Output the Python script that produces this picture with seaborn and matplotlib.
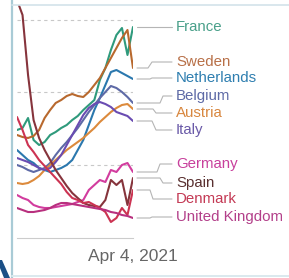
import pandas as pd
import numpy as np
import matplotlib.pyplot as plt
import matplotlib.transforms as mtransforms
from matplotlib.lines import Line2D
from matplotlib.patches import Polygon
import seaborn as sns

# weekly points, Nov 8 2020 -> Apr 4 2021
dates = pd.date_range('2020-11-08', '2021-04-04', freq='7D')

france = [110, 112, 122, 100, 95, 98, 105, 108, 112, 115, 120, 124, 130, 135, 140, 160, 172, 190, 205, 212, 185, 213]
sweden = [105, 103, 102, 104, 110, 122, 130, 137, 140, 144, 146, 144, 143, 148, 155, 162, 172, 182, 192, 202, 210, 172]
netherlands = [90, 85, 80, 77, 72, 70, 68, 70, 72, 75, 80, 90, 100, 115, 130, 142, 155, 168, 170, 167, 164, 161]
belgium = [75, 73, 70, 68, 70, 72, 77, 85, 92, 98, 105, 112, 120, 128, 135, 142, 148, 154, 152, 148, 143, 137]
austria = [57, 56, 57, 60, 64, 70, 75, 80, 85, 90, 94, 98, 102, 107, 112, 118, 123, 128, 132, 135, 136, 131]
italy = [82, 80, 78, 75, 72, 70, 72, 78, 85, 95, 105, 115, 125, 132, 136, 138, 136, 133, 128, 126, 124, 119]
germany = [45, 42, 40, 35, 33, 32, 32, 33, 34, 35, 36, 38, 40, 50, 55, 60, 58, 70, 68, 75, 77, 68]
spain = [240, 225, 165, 120, 102, 90, 80, 70, 62, 54, 47, 42, 37, 35, 34, 33, 40, 60, 55, 60, 35, 62]
denmark = [123, 110, 95, 88, 80, 74, 68, 62, 56, 48, 42, 40, 37, 38, 35, 32, 28, 18, 22, 32, 25, 50]
uk = [32, 30, 28, 28, 29, 30, 32, 35, 37, 37, 36, 35, 34, 33, 32, 31, 30, 28, 27, 25, 24, 22]

countries = ['France', 'Sweden', 'Netherlands', 'Belgium', 'Austria', 'Italy',
             'Germany', 'Spain', 'Denmark', 'United Kingdom']
series = [france, sweden, netherlands, belgium, austria, italy, germany, spain, denmark, uk]
line_colors = ['#2f9a7c', '#b8692e', '#2b78ae', '#5e6aa6', '#dc8a3c', '#6a4cb2',
               '#d23c9e', '#86343c', '#cc3352', '#b8307e']
label_colors = ['#4aa08a', '#b87048', '#2f7fb0', '#5e6aa6', '#d8873f', '#6a5aa8',
                '#c8409c', '#5a3030', '#c43a55', '#b3408a']

df = pd.DataFrame({
    'date': np.tile(dates, len(countries)),
    'value': np.concatenate(series),
    'country': np.repeat(countries, len(dates)),
})

# label layout (value units) and connector elbows (pixels)
label_y = [213, 178, 162, 144, 127, 110, 76, 57, 41, 23]
elbows = [(150, 152), (148, 152), (150, 152), (160, 163), (153, 156),
          (152, 156), (157, 160), (160, 163), (150, 153), (150, 152)]

W, H = 289, 278
sns.set_style('white')
plt.rcParams['font.family'] = ['Liberation Sans', 'DejaVu Sans']

fig = plt.figure(figsize=(W / 100, H / 100), dpi=100)
ax = fig.add_axes([17 / W, (H - 238) / H, 116 / W, 233 / H])

sns.lineplot(data=df, x='date', y='value', hue='country', hue_order=countries,
             palette=dict(zip(countries, line_colors)), linewidth=1.5,
             legend=False, ax=ax)

ax.set_xlim(dates[0], dates[-1])
ax.set_ylim(2, 235)
ax.set_yticks([75, 148, 220])
ax.yaxis.grid(True, color='#c8c8c8', linestyle=(0, (3, 3)), linewidth=0.8)
ax.tick_params(axis='y', left=False, labelleft=False)
ax.set_xticks([dates[-1]])
ax.set_xticklabels(['Apr 4, 2021'])
ax.tick_params(axis='x', direction='out', length=4, width=0.8, color='#bbbbbb',
               labelsize=12.5, labelcolor='#666666', pad=4)
ax.set_xlabel('')
ax.set_ylabel('')
for side in ['top', 'right', 'left']:
    ax.spines[side].set_visible(False)
ax.spines['bottom'].set_color('#cccccc')
ax.spines['bottom'].set_linewidth(0.8)

# connectors + end labels
def px(xp):
    return (xp - 17) / 116

trans = mtransforms.blended_transform_factory(ax.transAxes, ax.transData)
for name, vals, ly, (e1, e2), lc in zip(countries, series, label_y, elbows, label_colors):
    last = vals[-1]
    ax.plot([px(137), px(e1), px(e2), px(172)], [last, last, ly, ly], transform=trans,
            color='#b5b5b5', linewidth=0.8, clip_on=False)
    ax.text(px(176), ly, name, transform=trans, color=lc, fontsize=10.8,
            va='center', ha='left', clip_on=False)

# screenshot frame
def fx(xp):
    return xp / W

def fy(yp):
    return 1 - yp / H

frame = '#a9cbd6'
fig.add_artist(Line2D([fx(12), fx(12)], [fy(0), fy(278)], color=frame, linewidth=1.6,
                      transform=fig.transFigure))
fig.add_artist(Line2D([fx(12), fx(289)], [fy(5), fy(5)], color='#d3e3ea', linewidth=1.2,
                      transform=fig.transFigure))
fig.add_artist(Line2D([fx(12), fx(289)], [fy(276), fy(276)], color='#dbe9ee', linewidth=1.4,
                      transform=fig.transFigure))
fig.add_artist(Polygon([(fx(0), fy(260)), (fx(2), fy(260)), (fx(10), fy(278)),
                        (fx(4), fy(278)), (fx(0), fy(268))], closed=True,
                       facecolor='#1b4f86', edgecolor='none', transform=fig.transFigure))

fig.savefig('out.png', dpi=100)
